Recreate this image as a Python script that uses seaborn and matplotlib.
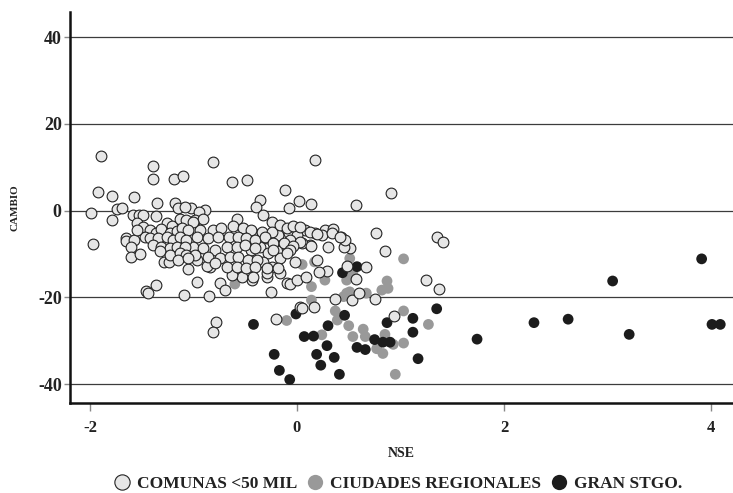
import matplotlib
matplotlib.use("Agg")
import matplotlib.pyplot as plt
from matplotlib.lines import Line2D
import seaborn as sns
import pandas as pd

# Comunas < 50 mil (light circles)
comunas_nse = [
    -1.89, -1.39, -1.39, -1.19, -1.10, -1.92, -1.79, -1.57, -1.35, -1.18, -1.99, -1.74, -1.69, -1.79, -1.58, -1.53, -1.49,
    -1.97, -1.65, -1.65, -1.57, -1.60, -1.60, -1.52, -1.28, -1.24, -1.05, -0.97, -1.46, -1.44, -1.36, -1.09, -0.85, -0.74,
    -0.70, -0.78, -0.81, -0.43, -0.25, -0.10, -0.07, 0.00, 0.09, 0.03, -0.29, -0.53, -0.63, -0.84, -0.87, -0.20, 0.05, 0.16,
    -0.81, -0.63, -0.48, -0.12, -0.36, -0.40, -0.08, 0.02, 0.14, 0.17, 0.57, 0.91, -1.02, -0.89, -0.95, -0.58, -0.33, -0.24,
    0.76, 1.35, 1.41, 0.85, 1.25, 1.37, 0.94, 0.67, 0.57, 0.48, 0.37, 0.53, 0.75, 0.60, 0.51, 0.45, 0.29, 0.21, 0.19, -0.02, -0.16,
    0.08, 0.17, 0.27, 0.35, 0.43, 0.46, 0.13, 0.30, 0.05, 0.24, 0.34, 0.42,
    -0.42, -0.34, -0.29, -0.18, -0.08, 0.00, -0.44, -0.36, -0.28, -0.18, -0.10, -0.33, -0.16, -0.24, -0.29, -0.44,
    -1.00, -0.94, -0.81, -0.73, -0.62, -0.52, -0.44, -0.24, -0.07, 0.03, 0.14,
    -0.99, -0.91, -0.16, -0.10, -0.04, 0.03, 0.13, 0.19,
    -0.97, -0.86, -0.76, -0.66, -0.57, -0.49, -0.41, -0.31, -0.23, -0.13, -0.04,
    -1.00, -0.91, -0.79, -0.68, -0.58, -0.50, -0.41, -0.23, -0.07,
    -0.97, -0.86, -0.74, -0.65, -0.57, -0.47, -0.39, -0.10,
    -0.79, -0.68, -0.58, -0.49, -0.41, -0.29, -0.18, -0.42,
    -1.15, -1.08,
    -1.36, -1.26, -1.21, -1.13, -1.07, -1.00,
    -1.55, -1.49, -1.42, -1.36, -1.31, -1.23, -1.16, -1.11, -1.05,
    -1.47, -1.42, -1.34, -1.26, -1.20, -1.13, -1.07,
    -1.39, -1.31, -1.23, -1.16, -1.08,
    -1.32, -1.23, -1.13, -1.07, -0.99,
    -1.15, -1.05, -1.55,
]
comunas_cambio = [
    12.7, 10.4, 7.2, 7.2, 8.0, 4.4, 3.4, 3.2, 1.8, 1.8, -0.6, 0.3, 0.6, -2.1, -1.0, -1.0, -1.0,
    -7.7, -6.4, -6.9, -6.8, -8.3, -10.7, -10.0, -11.9, -11.9, -13.5, -16.4, -18.4, -18.9, -17.1, -19.4, -19.6, -16.7,
    -18.3, -25.6, -28.0, -16.0, -18.7, -16.6, -16.9, -16.0, -15.2, -22.1, -15.2, -15.2, -14.8, -12.9, -12.7, -25.0, -22.5, -22.3,
    11.2, 6.7, 7.1, 4.8, 2.5, 0.9, 0.6, 2.2, 1.5, 11.7, 1.3, 4.0, 0.6, 0.2, -0.2, -1.9, -1.0, -2.5,
    -5.2, -6.1, -7.3, -9.4, -16.0, -18.0, -24.3, -13.0, -15.8, -12.7, -20.4, -20.6, -20.4, -19.0, -8.7, -8.3, -13.8, -14.1, -11.4, -11.9, -14.4,
    -4.5, -5.2, -4.5, -4.2, -6.1, -6.8, -7.9, -8.3, -7.5, -5.6, -5.2, -6.0,
    -5.2, -4.8, -6.4, -5.6, -5.2, -5.6, -9.1, -8.3, -9.8, -9.4, -8.7, -11.8, -11.0, -12.9, -14.4, -12.9,
    -4.1, -4.5, -4.5, -4.1, -3.5, -4.1, -4.5, -4.8, -6.8, -7.1, -8.1,
    -2.1, -2.0, -3.3, -4.1, -3.5, -3.8, -4.8, -5.4,
    -6.0, -6.4, -6.0, -6.0, -6.0, -6.4, -6.8, -6.0, -7.5, -7.5, -8.1,
    -8.3, -8.7, -9.1, -8.3, -8.3, -7.9, -8.7, -9.1, -9.1,
    -11.4, -10.6, -11.0, -10.6, -10.6, -11.4, -11.4, -9.8,
    -12.1, -12.9, -12.9, -13.3, -12.9, -13.3, -13.3, -15.3,
    0.6, 0.9,
    -1.2, -2.9, -3.5, -1.8, -2.1, -2.5,
    -2.8, -3.8, -4.5, -5.2, -4.3, -5.2, -4.6, -4.1, -4.5,
    -6.0, -6.4, -6.4, -6.0, -6.8, -6.0, -6.8,
    -7.9, -8.3, -8.7, -8.3, -8.3,
    -9.4, -10.2, -9.8, -10.2, -10.2,
    -11.4, -11.0, -4.5,
]

# Ciudades regionales (gray dots)
ciudades_nse = [
    -0.60, -0.29, -0.10, 0.05, 0.17, 0.14, 0.14, 0.27, 0.37, 0.39, 0.50, 0.24, 0.51, 0.54, 0.51, 0.48, 0.48,
    0.67, 0.54, 0.64, 0.66, 0.77, 0.83, 0.85, 0.87, 0.88, 0.82, 1.03, 1.03, 0.93, 0.95, 1.03, 1.27, 0.45,
]
ciudades_cambio = [
    -16.9, -13.4, -25.3, -12.4, -11.8, -17.5, -20.6, -16.0, -23.1, -25.2, -26.5, -28.6, -18.7, -14.4, -11.0, -16.0, -19.0,
    -19.0, -29.0, -27.3, -29.0, -31.8, -32.9, -28.5, -16.2, -17.9, -18.3, -23.1, -30.5, -30.8, -37.7, -11.1, -26.2, -19.8,
]

# Gran Santiago (black dots)
stgo_nse = [
    -0.42, -0.22, -0.17, -0.07, -0.01, 0.07, 0.16, 0.19, 0.23, 0.29, 0.30, 0.36, 0.41, 0.44, 0.58, 0.46, 0.58,
    0.66, 0.75, 0.83, 0.90, 0.87, 1.12, 1.12, 1.17, 1.35, 1.74, 2.29, 2.62, 3.05, 3.21, 3.91, 4.01, 4.09,
]
stgo_cambio = [
    -26.2, -33.1, -36.8, -38.9, -23.8, -29.0, -28.9, -33.1, -35.6, -31.1, -26.5, -33.8, -37.7, -14.3, -12.9, -24.1, -31.5,
    -32.0, -29.7, -30.3, -30.3, -25.8, -24.8, -28.0, -34.1, -22.6, -29.6, -25.8, -25.0, -16.2, -28.5, -11.1, -26.2, -26.2,
]

group_labels = ["COMUNAS <50 MIL", "CIUDADES REGIONALES", "GRAN STGO."]
x_ticks = [-2, 0, 2, 4]
y_ticks = [-40, -20, 0, 20, 40]

df = pd.concat([
    pd.DataFrame({"NSE": comunas_nse, "CAMBIO": comunas_cambio, "grupo": group_labels[0]}),
    pd.DataFrame({"NSE": ciudades_nse, "CAMBIO": ciudades_cambio, "grupo": group_labels[1]}),
    pd.DataFrame({"NSE": stgo_nse, "CAMBIO": stgo_cambio, "grupo": group_labels[2]}),
], ignore_index=True)

sns.set_theme(style="white")
plt.rcParams["font.family"] = ["Liberation Serif", "DejaVu Serif"]
plt.rcParams["font.weight"] = "bold"

fig = plt.figure(figsize=(7.33, 4.93), dpi=100)
ax = fig.add_axes([70 / 733, 1 - 403.3 / 493, 1 - 70 / 733, (403.3 - 11.7) / 493])

light_fc, gray_fc, dark_fc = "#e6e6e6", "#999999", "#1c1c1c"
msize = 60

# horizontal reference lines
for yv in y_ticks:
    ax.axhline(yv, color="#3c3c3c", lw=0.9, zorder=1)

sns.scatterplot(data=df[df.grupo == group_labels[1]], x="NSE", y="CAMBIO", ax=ax,
                color=gray_fc, edgecolor="none", s=msize, zorder=2, legend=False)
sns.scatterplot(data=df[df.grupo == group_labels[2]], x="NSE", y="CAMBIO", ax=ax,
                color=dark_fc, edgecolor="none", s=msize, zorder=3, legend=False)
sns.scatterplot(data=df[df.grupo == group_labels[0]], x="NSE", y="CAMBIO", ax=ax,
                color=light_fc, edgecolor="#222222", linewidth=0.8, s=msize, zorder=4, legend=False)

ax.set_xlim(-2.193, 4.213)
ax.set_ylim(-44.38, 45.85)

ax.set_xticks(x_ticks)
ax.set_xticklabels([str(v) for v in x_ticks])
ax.set_yticks(y_ticks)
ax.set_yticklabels([str(v) for v in y_ticks])

for side in ["top", "right"]:
    ax.spines[side].set_visible(False)
for side in ["left", "bottom"]:
    ax.spines[side].set_color("#111111")
    ax.spines[side].set_linewidth(1.8)

ax.tick_params(axis="x", which="major", direction="out", length=6, width=1.0,
               color="#888888", labelsize=12, pad=6, labelcolor="#222222", bottom=True)
ax.tick_params(axis="y", which="major", direction="out", length=4, width=1.0,
               color="#888888", labelsize=13, pad=2, labelcolor="#222222", left=True)
for lab in ax.get_xticklabels() + ax.get_yticklabels():
    lab.set_fontweight("bold")

ax.set_xlabel("NSE", fontsize=10, fontweight="bold", color="#222222", labelpad=8)
ax.set_ylabel("CAMBIO", fontsize=8, fontweight="bold", color="#222222")
ax.yaxis.set_label_coords(-0.076, 0.5)
ax.grid(False)

handles = [
    Line2D([], [], marker="o", ls="", markersize=11, markerfacecolor=light_fc,
           markeredgecolor="#222222", markeredgewidth=0.8),
    Line2D([], [], marker="o", ls="", markersize=11, markerfacecolor=gray_fc, markeredgecolor="none"),
    Line2D([], [], marker="o", ls="", markersize=11, markerfacecolor=dark_fc, markeredgecolor="none"),
]
fig.legend(handles, group_labels, loc="center", bbox_to_anchor=(398 / 733, 1 - 484 / 493),
           ncol=3, frameon=False, handletextpad=0.35, columnspacing=0.55,
           prop={"family": "Liberation Serif", "weight": "bold", "size": 12.5},
           labelcolor="#222222", handlelength=1.0)

fig.savefig("out.png", dpi=100)
